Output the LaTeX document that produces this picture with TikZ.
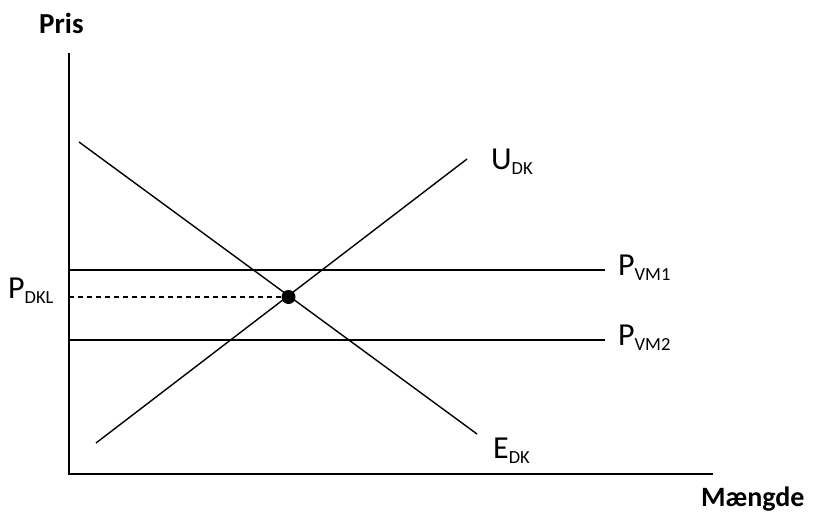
\documentclass[tikz,border=0pt]{standalone}
\usepackage{fontspec}
\setmainfont{Carlito}
\begin{document}
\begin{tikzpicture}[x=1pt,y=-1pt,
  axis/.style={line width=2.6pt},
  curve/.style={line width=1.4pt},
  level/.style={line width=1.5pt},
  lab/.style={inner sep=0pt,anchor=west},
  title/.style={inner sep=0pt,anchor=base west,font=\fontsize{29}{29}\selectfont\bfseries}]
\newcommand{\mylab}[2]{{\fontsize{32}{32}\selectfont #1}\raisebox{-5pt}{\fontsize{18.5}{18.5}\selectfont #2}}
\useasboundingbox (0,0) rectangle (813,514);
% axes
\coordinate (top) at (69,53);
\coordinate (orig) at (69,474);
\coordinate (xend) at (713,474);
\draw[axis] (top) -- (orig) -- (xend);
% curves
\coordinate (e1) at (79,142);
\coordinate (e2) at (477,434);
\coordinate (u1) at (96,443);
\coordinate (u2) at (467,159);
\draw[curve] (e1) -- (e2);
\draw[curve] (u1) -- (u2);
% world price levels
\coordinate (v1a) at (69,270);
\coordinate (v1b) at (605,270);
\coordinate (v2a) at (69,340);
\coordinate (v2b) at (605,340);
\draw[level] (v1a) -- (v1b);
\draw[level] (v2a) -- (v2b);
% equilibrium
\coordinate (eq) at (288.5,297);
\coordinate (pdk) at (69,297);
\draw[line width=1.3pt,dash pattern=on 5pt off 4pt] (pdk) -- (eq);
\fill (eq) circle (7);
% labels
\node[title] (pris) at (39,33) {Pris};
\node[title,font=\fontsize{28}{28}\selectfont\bfseries] (maengde) at (701,506) {Mængde};
\node[lab] (ulab) at (491,162) {\mylab{U}{DK}};
\node[lab] (elab) at (493,451) {\mylab{E}{DK}};
\node[lab] (vm1) at (618,268) {\mylab{P}{VM1}};
\node[lab] (vm2) at (618,338) {\mylab{P}{VM2}};
\node[lab] (dkl) at (8,291) {\mylab{P}{DKL}};
\end{tikzpicture}
\end{document}
